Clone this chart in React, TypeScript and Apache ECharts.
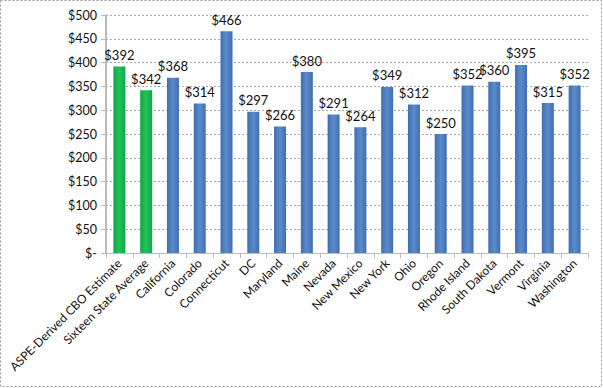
import React, { useEffect, useRef } from "react";
import * as echarts from "echarts";

const categories = [
  "ASPE-Derived CBO Estimate",
  "Sixteen State Average",
  "California",
  "Colorado",
  "Connecticut",
  "DC",
  "Maryland",
  "Maine",
  "Nevada",
  "New Mexico",
  "New York",
  "Ohio",
  "Oregon",
  "Rhode Island",
  "South Dakota",
  "Vermont",
  "Virginia",
  "Washington",
];
const values = [392, 342, 368, 314, 466, 297, 266, 380, 291, 264, 349, 312, 250, 352, 360, 395, 315, 352];
const greenCount = 2;

export default function App() {
  const ref = useRef<HTMLDivElement>(null);
  useEffect(() => {
    document.body.style.margin = "0";
    const chart = echarts.init(ref.current!, undefined, { renderer: "svg" });
    const font = "Lato, 'Open Sans', sans-serif";
    const green = new echarts.graphic.LinearGradient(0, 0, 1, 0, [
      { offset: 0, color: "#10A845" },
      { offset: 0.5, color: "#22C25A" },
      { offset: 1, color: "#10A845" },
    ]);
    const blue = new echarts.graphic.LinearGradient(0, 0, 1, 0, [
      { offset: 0, color: "#3F6FB0" },
      { offset: 0.5, color: "#5B8BCB" },
      { offset: 1, color: "#3F6FB0" },
    ]);
    chart.setOption({
      animation: false,
      grid: { left: 106, right: 15, top: 15, bottom: 135 },
      graphic: [
        {
          type: "rect",
          shape: { x: 0.5, y: 0.5, width: 601, height: 386 },
          style: { fill: "none", stroke: "#999", lineWidth: 1, lineDash: [2, 2] },
        },
      ],
      xAxis: {
        type: "category",
        data: categories,
        axisLine: { lineStyle: { color: "#BBBBBB", width: 1 } },
        axisTick: { show: true, alignWithLabel: false, length: 5, lineStyle: { color: "#BBBBBB" } },
        axisLabel: {
          interval: 0,
          rotate: 45,
          color: "#111",
          fontFamily: font,
          fontSize: 12,
          margin: 8,
        },
      },
      yAxis: {
        type: "value",
        min: 0,
        max: 500,
        interval: 50,
        axisLine: { show: true, lineStyle: { color: "#BBBBBB", width: 2 } },
        axisTick: { show: true, length: 5, lineStyle: { color: "#BBBBBB" } },
        splitLine: { show: true, lineStyle: { color: "#AAAAAA", type: [2, 2] } },
        axisLabel: {
          color: "#111",
          fontFamily: font,
          fontSize: 12.5,
          margin: 9,
          formatter: (v: number) => (v === 0 ? "$-" : "$" + v),
        },
      },
      series: [
        {
          type: "bar",
          barWidth: 12,
          data: values.map((v, i) => ({
            value: v,
            itemStyle: { color: i < greenCount ? green : blue },
          })),
          label: {
            show: true,
            position: "top",
            distance: 5,
            color: "#111",
            fontFamily: font,
            fontSize: 13,
            formatter: (p: any) => "$" + p.value,
          },
        },
      ],
    });
    return () => chart.dispose();
  }, []);
  return <div ref={ref} style={{ width: 603, height: 388 }} />;
}
